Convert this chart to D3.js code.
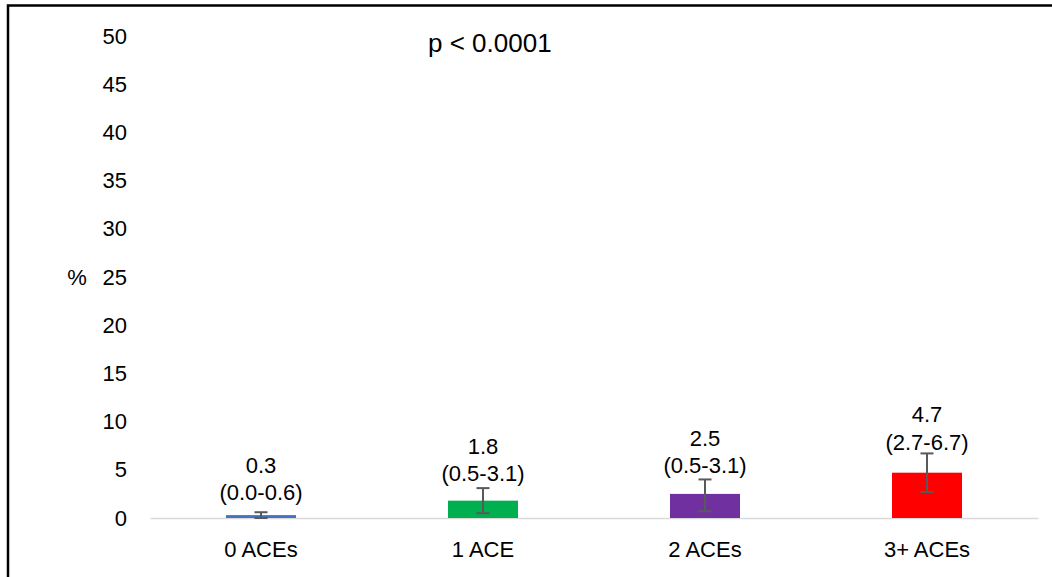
<!DOCTYPE html>
<html>
<head>
<meta charset="utf-8">
<script src="https://cdn.jsdelivr.net/npm/d3@7"></script>
<style>
  html, body { margin: 0; padding: 0; background: #fff; }
  svg { display: block; font-family: "Liberation Sans", Arial, sans-serif; }
</style>
</head>
<body>
<svg id="chart" width="1052" height="577"></svg>
<script>
const categories = ["0 ACEs", "1 ACE", "2 ACEs", "3+ ACEs"];
const values = [0.3, 1.8, 2.5, 4.7];
const valueLabels = ["0.3", "1.8", "2.5", "4.7"];
const ciLabels = ["(0.0-0.6)", "(0.5-3.1)", "(0.5-3.1)", "(2.7-6.7)"];
const errLow = [0.0, 0.5, 0.7, 2.7];
const errHigh = [0.6, 3.1, 4.0, 6.7];
const barColors = ["#4472C4", "#00B050", "#7030A0", "#FF0000"];
const yTicks = [0, 5, 10, 15, 20, 25, 30, 35, 40, 45, 50];
const pText = "p < 0.0001";
const yUnit = "%";

const svg = d3.select("#chart");
const W = 1052, H = 577;
const FS = 22;

// outer border (cropped at right / bottom)
svg.append("rect")
  .attr("x", 8).attr("y", 5.5)
  .attr("width", W + 20).attr("height", H + 20)
  .attr("fill", "none").attr("stroke", "#000").attr("stroke-width", 2.5);

const x = d3.scaleBand().domain(categories).range([150, 1038])
  .paddingInner(1 - 70 / 222).paddingOuter((1 - 70 / 222) / 2);
const y = d3.scaleLinear().domain([0, 50]).range([518, 36]);

// y axis
const yAxis = svg.append("g").attr("transform", "translate(150,0)")
  .call(d3.axisLeft(y).tickValues(yTicks).tickSize(0).tickPadding(23));
yAxis.select(".domain").remove();
yAxis.selectAll("text").attr("font-size", FS).attr("fill", "#000")
  .attr("font-family", "Liberation Sans, Arial, sans-serif");

// x axis
const xAxis = svg.append("g").attr("transform", `translate(0,${y(0)})`)
  .call(d3.axisBottom(x).tickSize(0).tickPadding(23));
xAxis.select(".domain").attr("stroke", "#D9D9D9").attr("stroke-width", 1.5);
xAxis.selectAll("text").attr("font-size", FS).attr("fill", "#000")
  .attr("font-family", "Liberation Sans, Arial, sans-serif");

const data = categories.map((c, i) => ({
  c, v: values[i], lo: errLow[i], hi: errHigh[i],
  vl: valueLabels[i], cl: ciLabels[i], col: barColors[i]
}));

// bars
svg.append("g").selectAll("rect").data(data).join("rect")
  .attr("x", d => x(d.c)).attr("width", x.bandwidth())
  .attr("y", d => y(d.v)).attr("height", d => y(0) - y(d.v))
  .attr("fill", d => d.col);

// error bars
const eb = svg.append("g").attr("stroke", "#595959").attr("stroke-width", 2).attr("fill", "none");
data.forEach(d => {
  const cx = x(d.c) + x.bandwidth() / 2;
  eb.append("line").attr("x1", cx).attr("x2", cx).attr("y1", y(d.lo)).attr("y2", y(d.hi));
  eb.append("line").attr("x1", cx - 6.5).attr("x2", cx + 6.5).attr("y1", y(d.lo)).attr("y2", y(d.lo));
  eb.append("line").attr("x1", cx - 6.5).attr("x2", cx + 6.5).attr("y1", y(d.hi)).attr("y2", y(d.hi));
});

// data labels
const lab = svg.append("g").attr("font-size", FS).attr("fill", "#000").attr("text-anchor", "middle");
data.forEach(d => {
  const cx = x(d.c) + x.bandwidth() / 2;
  const c2 = (y(d.v) + y(d.hi)) / 2 - 21;
  lab.append("text").attr("x", cx).attr("y", c2).attr("dy", "0.35em").text(d.cl);
  lab.append("text").attr("x", cx).attr("y", c2 - 27.5).attr("dy", "0.35em").text(d.vl);
});

// unit label
svg.append("text").attr("x", 77).attr("y", y(25)).attr("dy", "0.35em")
  .attr("text-anchor", "middle").attr("font-size", FS).text(yUnit);

// p-value
svg.append("text").attr("x", 428).attr("y", 52)
  .attr("font-size", 26).text(pText);
</script>
</body>
</html>
